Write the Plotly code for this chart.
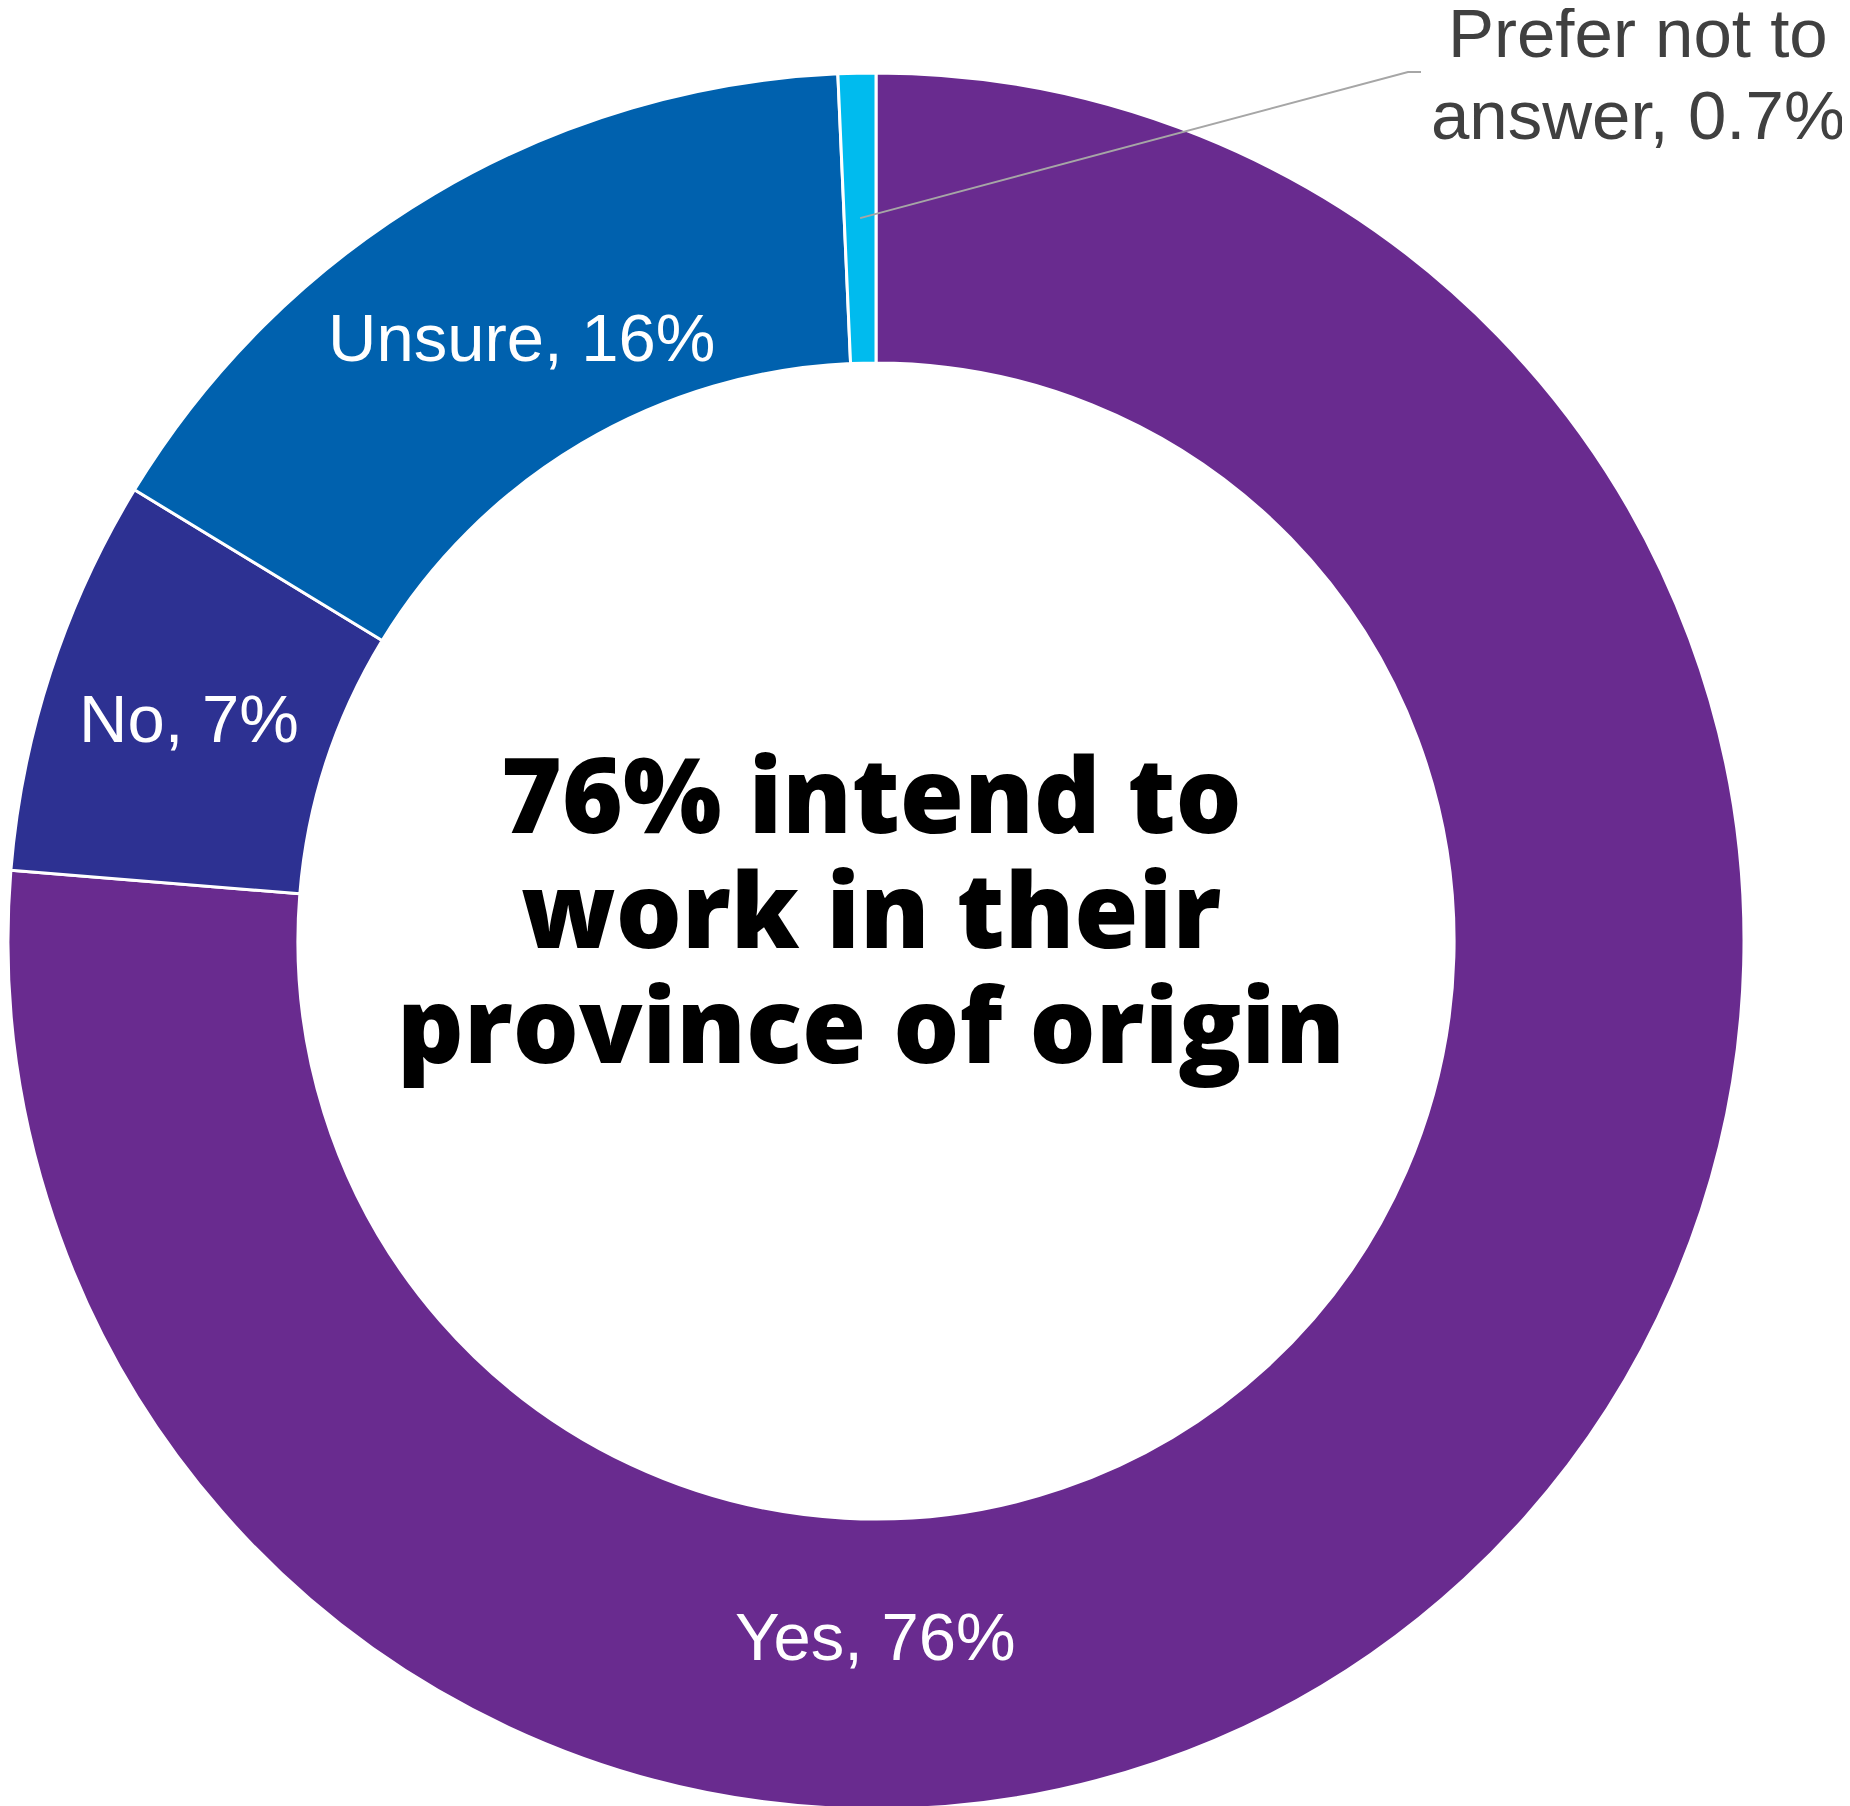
import math
import plotly.graph_objects as go

# ---- data ----
labels = ["Yes", "No", "Unsure", "Prefer not to answer"]
values = [76.3, 7.4, 15.6, 0.7]
value_text = ["76%", "7%", "16%", "0.7%"]
colors = ["#692B8F", "#2D3192", "#0061AE", "#00BBEE"]
center_lines = ["76% intend to", "work in their", "province of origin"]

# ---- layout geometry (figure pixels; page body adds an 8px offset) ----
W, H = 1850, 1806
R = 868
CX, CY = R, 933          # pie centre in figure pixels (from top-left)
HOLE = 0.666

def px(x):
    return x / W

def py(y):
    return 1 - y / H

fig = go.Figure()
fig.add_trace(go.Pie(
    labels=labels,
    values=values,
    hole=HOLE,
    sort=False,
    direction="clockwise",
    rotation=0,
    textinfo="none",
    hoverinfo="skip",
    marker=dict(colors=colors, line=dict(color="white", width=3)),
    domain=dict(x=[0, (2 * R) / W], y=[py(CY + R), py(CY - R)]),
    showlegend=False,
))

label_font = dict(family="Liberation Sans, Arial, sans-serif", size=67, color="white")
# in-slice labels (placed like the reference)
label_pos = {0: (867, 1628), 1: (181, 710), 2: (513, 329)}
for i, (x, y) in label_pos.items():
    fig.add_annotation(x=px(x), y=py(y), xref="paper", yref="paper",
                       text=f"{labels[i]}, {value_text[i]}", showarrow=False,
                       xanchor="center", yanchor="middle", font=label_font)

# outside label for the small slice
out_font = dict(family="Liberation Sans, Arial, sans-serif", size=69, color="#404040")
for t, y in [("Prefer not to", 26), (f"answer, {value_text[3]}", 108)]:
    fig.add_annotation(x=px(1630), y=py(y), xref="paper", yref="paper",
                       text=t, showarrow=False, xanchor="center", yanchor="middle",
                       font=out_font)

# leader line from the middle of the small slice
total = sum(values)
mid_deg = (sum(values[:3]) + values[3] / 2) / total * 360.0
rmid = R * (1 + HOLE) / 2
sx = CX + rmid * math.sin(math.radians(mid_deg))
sy = CY - rmid * math.cos(math.radians(mid_deg))
fig.add_shape(type="path", xref="paper", yref="paper",
              path=f"M {px(sx)},{py(sy)} L {px(1400)},{py(64)} L {px(1413)},{py(64)}",
              line=dict(color="#A6A6A6", width=2))

# center text
center_y = [784, 900, 1014]
for t, y in zip(center_lines, center_y):
    fig.add_annotation(x=px(863), y=py(y), xref="paper", yref="paper",
                       text=t, showarrow=False, xanchor="center", yanchor="middle",
                       font=dict(family="Open Sans, sans-serif", size=104, color="black", weight=800))

fig.update_layout(width=W, height=H, margin=dict(l=0, r=0, t=0, b=0),
                  paper_bgcolor="white", plot_bgcolor="white")
fig.write_html("out.html")
